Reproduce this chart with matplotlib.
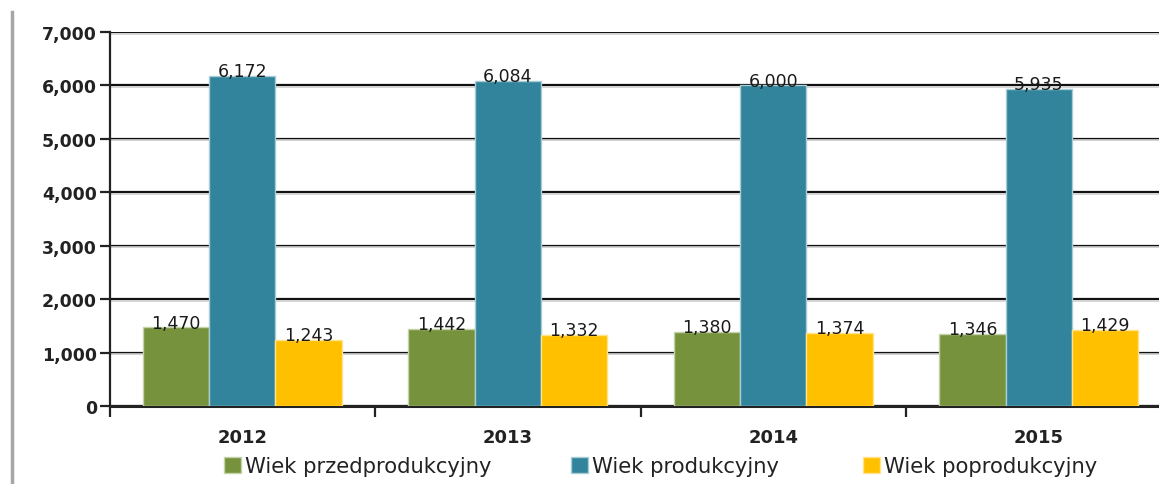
import matplotlib
matplotlib.use("Agg")
import matplotlib.pyplot as plt
import matplotlib.transforms as mtransforms
from matplotlib.patches import Patch
from matplotlib.lines import Line2D
import numpy as np

years = ["2012", "2013", "2014", "2015"]
series_names = ["Wiek przedprodukcyjny", "Wiek produkcyjny", "Wiek poprodukcyjny"]
przed = [1470, 1442, 1380, 1346]
prod = [6172, 6084, 6000, 5935]
po = [1243, 1332, 1374, 1429]
colors = ["#76923C", "#31849B", "#FFC000"]
edge_colors = ["#c4d3a8", "#a9cdd6", "#ffe28a"]
yticks = [0, 1000, 2000, 3000, 4000, 5000, 6000, 7000]

fig = plt.figure(figsize=(11.59, 4.85), dpi=100)
left_px = 109.5
cat_px = 265.5
ax = fig.add_axes([left_px / 1159, 78 / 485, 1 - left_px / 1159, (407 - 33) / 485])

x = np.arange(len(years))
w = 0.25
for i, (vals, c, ec) in enumerate(zip([przed, prod, po], colors, edge_colors)):
    bars = ax.bar(x + (i - 1) * w, vals, width=w, color=c, edgecolor=ec,
                  linewidth=1.0, zorder=3, label=series_names[i])
    for b, v in zip(bars, vals):
        ax.annotate(f"{v:,}", (b.get_x() + b.get_width() / 2, v),
                    xytext=(0, -3), textcoords="offset points",
                    ha="center", va="bottom", fontsize=12.5, color="#1a1a1a",
                    zorder=5)

ax.set_yticks(yticks)
ax.set_yticklabels([f"{t:,}" for t in yticks], fontsize=12.5, fontweight="bold",
                   color="#222222")
ax.grid(axis="y", color="#111111", linewidth=1.6, zorder=1)
ax.set_axisbelow(True)

ax.set_xticks(np.arange(len(years) + 1) - 0.5)
ax.set_xticklabels([""] * (len(years) + 1))
ax.set_xlim(-0.5, -0.5 + (1159 - left_px) / cat_px)
ax.set_ylim(0, 7000)

# light shadow lines under gridlines
shadow = mtransforms.offset_copy(ax.get_yaxis_transform(), fig=fig, x=0, y=-1.6,
                                 units="dots")
for t in yticks[1:]:
    ax.add_line(Line2D([0, 1], [t, t], color="#d0d0d0", linewidth=1.2,
                       zorder=0.9, transform=shadow))

ax.tick_params(axis="x", direction="out", length=8, width=1.6, color="#222222")
ax.tick_params(axis="y", direction="out", length=7, width=1.6, color="#222222", pad=2)
for xi, yr in zip(x, years):
    ax.text(xi, -0.06, yr, transform=ax.get_xaxis_transform(), ha="center",
            va="top", fontsize=13, fontweight="bold", color="#222222")

for s in ["top", "right"]:
    ax.spines[s].set_visible(False)
ax.spines["left"].set_color("#222222")
ax.spines["left"].set_linewidth(1.6)
ax.spines["bottom"].set_color("#222222")
ax.spines["bottom"].set_linewidth(2.2)

fig.add_artist(Line2D([12 / 1159, 12 / 1159], [0, 1 - 13 / 485],
                      transform=fig.transFigure, color="#a6a6a6", linewidth=2.5))

legend_x_px = [224, 571, 863]
for name, c, ec, lx in zip(series_names, colors, edge_colors, legend_x_px):
    leg = fig.legend([Patch(facecolor=c, edgecolor=ec)], [name], loc="center left",
                     bbox_to_anchor=(lx / 1159, 1 - 467 / 485), frameon=False,
                     fontsize=15.2, handlelength=0.8, handleheight=0.8,
                     handletextpad=0.2, borderaxespad=0, borderpad=0)
    for txt in leg.get_texts():
        txt.set_color("#222222")

fig.savefig("out.png", dpi=100)
